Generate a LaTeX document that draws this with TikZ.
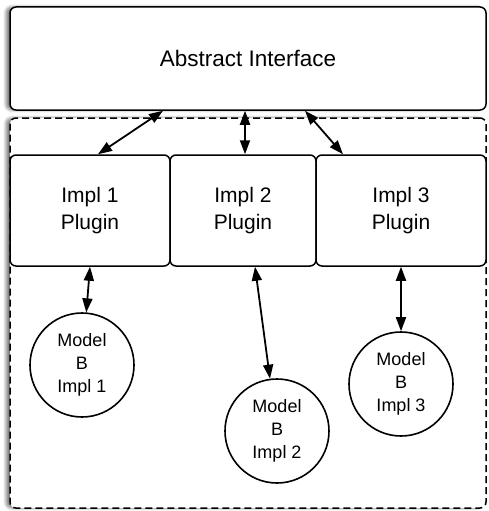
\documentclass[tikz,border=0pt]{standalone}
\usepackage{fontspec}
\setmainfont{Liberation Sans}
\usetikzlibrary{arrows.meta,shadows.blur}
\begin{document}
\begin{tikzpicture}[x=1pt,y=-1pt,
  box/.style={draw=black,line width=1.5pt,rounded corners=6pt,rectangle,inner sep=0pt,fill=white},
  shad/.style={blur shadow={shadow xshift=-4pt,shadow yshift=0pt,shadow blur steps=6,shadow opacity=50,shadow blur radius=3pt}},
  plug/.style={box,font=\fontsize{21}{27}\selectfont,align=center,minimum height=111pt},
  model/.style={draw=black,line width=1.6pt,circle,minimum size=104pt,inner sep=0pt,fill=white,font=\fontsize{18}{23}\selectfont,align=center},
  arr/.style={line width=1.8pt,{Triangle[length=14pt,width=10pt]}-{Triangle[length=14pt,width=10pt]}}]
\useasboundingbox (0,0) rectangle (488,511);
\node[box,dash pattern=on 7pt off 4pt,shad,minimum width=476pt,minimum height=390pt] (cont) at (248,313) {};
\node[box,shad,minimum width=476pt,minimum height=103pt,font=\fontsize{22.5}{24}\selectfont] (abs) at (248,58.5) {\raisebox{-4pt}{Abstract Interface}};
\node[plug,minimum width=160pt] (i1) at (90,210.5) {Impl 1\\Plugin};
\node[plug,minimum width=146pt] (i2) at (243,210.5) {Impl 2\\Plugin};
\node[plug,minimum width=170pt] (i3) at (401,210.5) {Impl 3\\Plugin};
\node[model] (m1) at (82,365) {Model\\B\\Impl 1};
\node[model] (m2) at (277,431) {Model\\B\\Impl 2};
\node[model] (m3) at (401,384) {Model\\B\\Impl 3};
\draw[arr] (abs.south -| 163,0) -- (i1.north -| 98,0);
\draw[arr] (abs.south -| 245,0) -- (i2.north -| 245,0);
\draw[arr] (abs.south -| 305,0) -- (i3.north -| 343,0);
\draw[arr] (i1.south) -- (m1);
\draw[arr] (i2.south -| 255,0) -- (m2);
\draw[arr] (i3.south) -- (m3);
\end{tikzpicture}
\end{document}
